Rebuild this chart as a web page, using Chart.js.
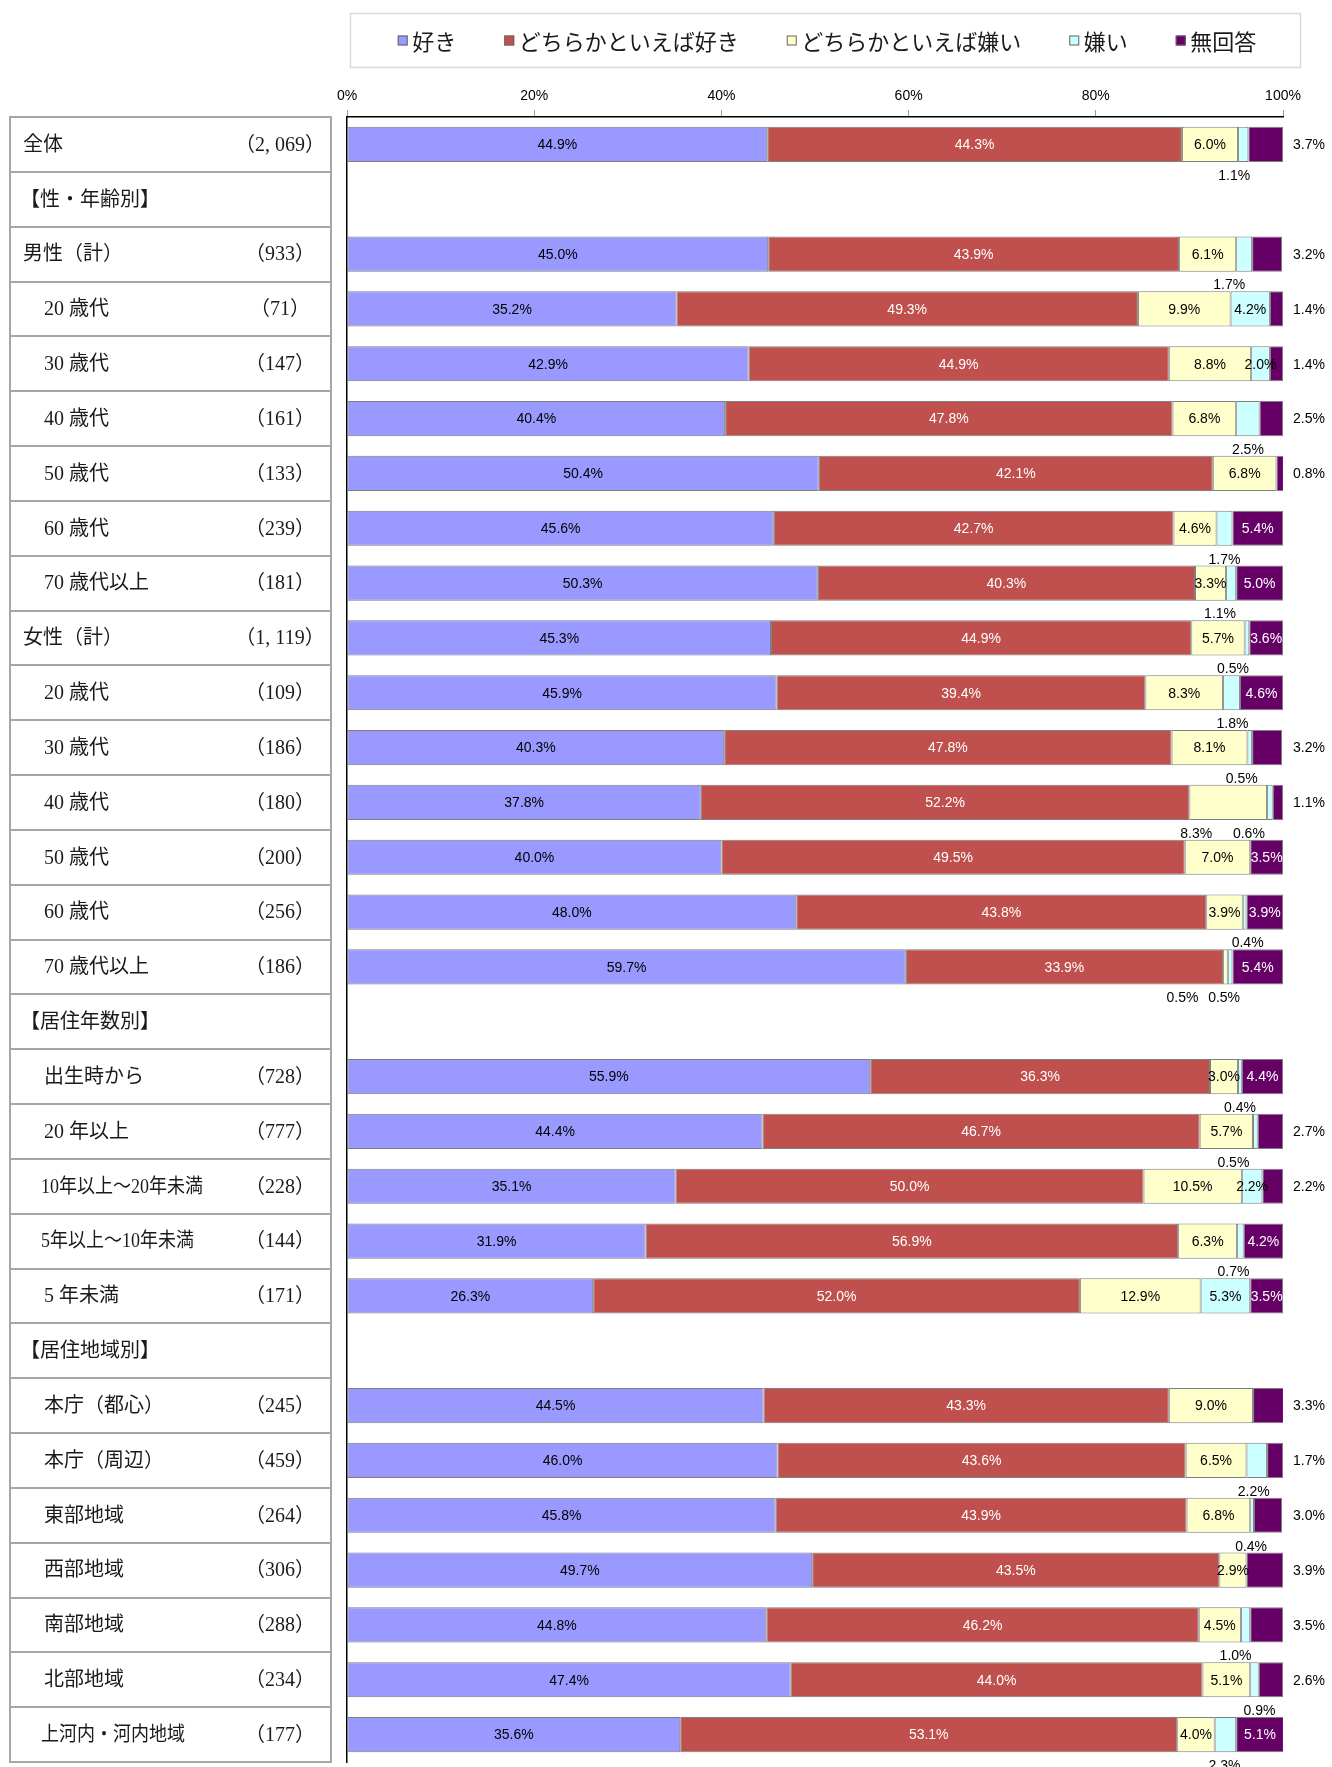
<!DOCTYPE html>
<html lang="ja">
<head>
<meta charset="utf-8">
<script src="https://cdn.jsdelivr.net/npm/chart.js@4.4.0/dist/chart.umd.min.js"></script>
<style>
html,body{margin:0;padding:0;background:#fff;}
#wrap{width:1332px;height:1767px;position:relative;}
</style>
</head>
<body>
<div id="wrap"><canvas id="c"></canvas></div>
<script>
// ---------- DATA ----------
const categories = ['全体','【性・年齢別】','男性（計）','20 歳代','30 歳代','40 歳代','50 歳代','60 歳代','70 歳代以上',
  '女性（計）','20 歳代','30 歳代','40 歳代','50 歳代','60 歳代','70 歳代以上',
  '【居住年数別】','出生時から','20 年以上','10年以上～20年未満','5年以上～10年未満','5 年未満',
  '【居住地域別】','本庁（都心）','本庁（周辺）','東部地域','西部地域','南部地域','北部地域','上河内・河内地域'];
const sampleSizes = ['（2, 069）','','（933）','（71）','（147）','（161）','（133）','（239）','（181）',
  '（1, 119）','（109）','（186）','（180）','（200）','（256）','（186）',
  '','（728）','（777）','（228）','（144）','（171）',
  '','（245）','（459）','（264）','（306）','（288）','（234）','（177）'];
const seriesNames = ['好き','どちらかといえば好き','どちらかといえば嫌い','嫌い','無回答'];
const like          = [44.9,null,45.0,35.2,42.9,40.4,50.4,45.6,50.3,45.3,45.9,40.3,37.8,40.0,48.0,59.7,null,55.9,44.4,35.1,31.9,26.3,null,44.5,46.0,45.8,49.7,44.8,47.4,35.6];
const ratherLike    = [44.3,null,43.9,49.3,44.9,47.8,42.1,42.7,40.3,44.9,39.4,47.8,52.2,49.5,43.8,33.9,null,36.3,46.7,50.0,56.9,52.0,null,43.3,43.6,43.9,43.5,46.2,44.0,53.1];
const ratherDislike = [6.0,null,6.1,9.9,8.8,6.8,6.8,4.6,3.3,5.7,8.3,8.1,8.3,7.0,3.9,0.5,null,3.0,5.7,10.5,6.3,12.9,null,9.0,6.5,6.8,2.9,4.5,5.1,4.0];
const dislike       = [1.1,null,1.7,4.2,2.0,2.5,null,1.7,1.1,0.5,1.8,0.5,0.6,null,0.4,0.5,null,0.4,0.5,2.2,0.7,5.3,null,null,2.2,0.4,null,1.0,0.9,2.3];
const noAnswer      = [3.7,null,3.2,1.4,1.4,2.5,0.8,5.4,5.0,3.6,4.6,3.2,1.1,3.5,3.9,5.4,null,4.4,2.7,2.2,4.2,3.5,null,3.3,1.7,3.0,3.9,3.5,2.6,5.1];
const xTickValues = [0,20,40,60,80,100];

// ---------- STYLE ----------
const fillColors = ['#9999FF','#C0504D','#FFFFCC','#CCFFFF','#660066'];
const insideTextColors = ['#000','#fff','#000','#000','#fff'];
const seriesValues = [like, ratherLike, ratherDislike, dislike, noAnswer];
const tableFont = "20px 'Liberation Serif', 'Noto Sans CJK JP', serif";
const labelFont = "14px 'Liberation Sans', Arial, sans-serif";
const legendFont = "22px 'Noto Sans CJK JP', sans-serif";

// label placement (dataset index -> row index -> placement)
const labelPlacement = {
  2: {12:{pos:'below',dx:-32}, 15:{pos:'below',dx:-43}},
  3: {0:{pos:'below',dx:-9}, 2:{pos:'below',dx:-15}, 5:{pos:'below',dx:0}, 7:{pos:'below',dx:0},
      8:{pos:'below',dx:-11}, 9:{pos:'below',dx:-14}, 10:{pos:'below',dx:1}, 11:{pos:'below',dx:-8},
      12:{pos:'below',dx:-21}, 14:{pos:'below',dx:3}, 15:{pos:'below',dx:-6}, 17:{pos:'below',dx:0},
      18:{pos:'below',dx:-22}, 20:{pos:'below',dx:-7}, 24:{pos:'below',dx:-3}, 25:{pos:'below',dx:-1},
      27:{pos:'below',dx:-10}, 28:{pos:'below',dx:5}, 29:{pos:'below',dx:-1}},
  4: {}
};
[0,2,3,4,5,6,11,12,18,19,23,24,25,26,27,28].forEach(i => labelPlacement[4][i] = {pos:'right'});

const datasets = seriesNames.map((name, i) => ({
  label: name,
  data: seriesValues[i],
  backgroundColor: fillColors[i],
  borderColor: '#7f7f7f',
  borderWidth: 1,
  borderSkipped: false,
  categoryPercentage: 1,
  barPercentage: 0.64
}));

// ---------- PLUGINS ----------
const tablePlugin = {
  id: 'leftTable',
  afterDraw(chart) {
    const c = chart.ctx, y = chart.scales.y;
    const pitch = y.getPixelForValue(1) - y.getPixelForValue(0);
    const left = 10, right = 331;
    const top = y.getPixelForValue(0) - pitch / 2;
    const n = categories.length;
    c.save();
    c.strokeStyle = '#a6a6a6';
    c.lineWidth = 2;
    c.strokeRect(left, top, right - left, pitch * n);
    for (let i = 1; i < n; i++) {
      const yy = Math.round(top + pitch * i);
      c.beginPath(); c.moveTo(left, yy); c.lineTo(right, yy); c.stroke();
    }
    c.font = tableFont;
    c.fillStyle = '#1a1a1a';
    c.textBaseline = 'middle';
    const level0 = ['全体','男性（計）','女性（計）'];
    categories.forEach((name, i) => {
      const cy = y.getPixelForValue(i) + 1;
      let x = 44;
      if (level0.includes(name)) x = 23;
      else if (name.startsWith('【')) x = 20;
      const w = c.measureText(name).width;
      c.textAlign = 'left';
      if (w > 150) { x = 41; c.fillText(name, x, cy, w * 0.9); }
      else c.fillText(name, x, cy);
      if (sampleSizes[i]) {
        c.textAlign = 'center';
        c.fillText(sampleSizes[i], 280, cy);
      }
    });
    c.restore();
  }
};

const legendPlugin = {
  id: 'boxLegend',
  afterDraw(chart) {
    const c = chart.ctx;
    const bl = 350, bt = 13, br = 1300, bb = 67;
    c.save();
    c.strokeStyle = '#d9d9d9';
    c.lineWidth = 1.5;
    c.strokeRect(bl + 0.5, bt + 0.5, br - bl, bb - bt);
    c.font = legendFont;
    const mk = 10, gapT = 4.5, gapItem = 48;
    const widths = chart.data.datasets.map(d => c.measureText(d.label).width);
    const total = widths.reduce((a, w) => a + mk + gapT + w, 0) + gapItem * (widths.length - 1);
    let x = (bl + br) / 2 - total / 2 + 2;
    const cy = 40.5;
    c.textBaseline = 'middle';
    c.textAlign = 'left';
    chart.data.datasets.forEach((d, i) => {
      c.fillStyle = d.backgroundColor;
      c.fillRect(x, cy - mk / 2, mk, mk);
      c.strokeStyle = '#666';
      c.lineWidth = 1;
      c.strokeRect(x + 0.5, cy - mk / 2 + 0.5, mk - 1, mk - 1);
      c.fillStyle = '#1a1a1a';
      c.fillText(d.label, x + mk + gapT, cy + 1);
      x += mk + gapT + widths[i] + gapItem;
    });
    c.restore();
  }
};

const valueLabelPlugin = {
  id: 'valueLabels',
  afterDatasetsDraw(chart) {
    const c = chart.ctx;
    c.save();
    c.font = labelFont;
    c.textBaseline = 'middle';
    chart.data.datasets.forEach((ds, di) => {
      const meta = chart.getDatasetMeta(di);
      meta.data.forEach((bar, ri) => {
        const v = ds.data[ri];
        if (v === null || v === undefined) return;
        const p = bar.getProps(['x', 'base', 'y', 'height'], true);
        const txt = v.toFixed(1) + '%';
        const place = (labelPlacement[di] && labelPlacement[di][ri]) || {pos:'in'};
        const mid = (p.x + p.base) / 2;
        if (place.pos === 'in') {
          c.fillStyle = insideTextColors[di];
          c.textAlign = 'center';
          c.fillText(txt, mid, p.y + 1);
        } else if (place.pos === 'below') {
          c.fillStyle = '#000';
          c.textAlign = 'center';
          c.fillText(txt, mid + (place.dx || 0), p.y + p.height / 2 + 14);
        } else if (place.pos === 'right') {
          c.fillStyle = '#000';
          c.textAlign = 'left';
          c.fillText(txt, chart.chartArea.right + 10, p.y + 1);
        }
      });
    });
    c.restore();
  }
};

new Chart(document.getElementById('c'), {
  type: 'bar',
  data: { labels: categories, datasets },
  options: {
    indexAxis: 'y',
    responsive: true,
    maintainAspectRatio: false,
    animation: false,
    layout: { padding: { left: 347, right: 49, top: 0, bottom: 5 } },
    plugins: { legend: { display: false }, tooltip: { enabled: false } },
    scales: {
      x: {
        type: 'linear', position: 'top', stacked: true, min: 0, max: 100,
        afterBuildTicks: s => { s.ticks = xTickValues.map(v => ({ value: v })); },
        afterFit: s => { s.height = 117; },
        ticks: { callback: v => v + '%', color: '#000', padding: 5, maxRotation: 0,
                 font: { family: "'Liberation Sans', Arial, sans-serif", size: 14 } },
        grid: { drawOnChartArea: false, drawTicks: true, tickLength: 7, color: '#9a9a9a', lineWidth: 1 },
        border: { display: true, color: '#000', width: 1.5 }
      },
      y: {
        type: 'category', stacked: true,
        afterFit: s => { s.width = 0; },
        ticks: { display: false },
        grid: { display: true, drawOnChartArea: false, drawTicks: false },
        border: { display: true, color: '#000', width: 1.5 }
      }
    }
  },
  plugins: [tablePlugin, legendPlugin, valueLabelPlugin]
});
</script>
</body>
</html>
